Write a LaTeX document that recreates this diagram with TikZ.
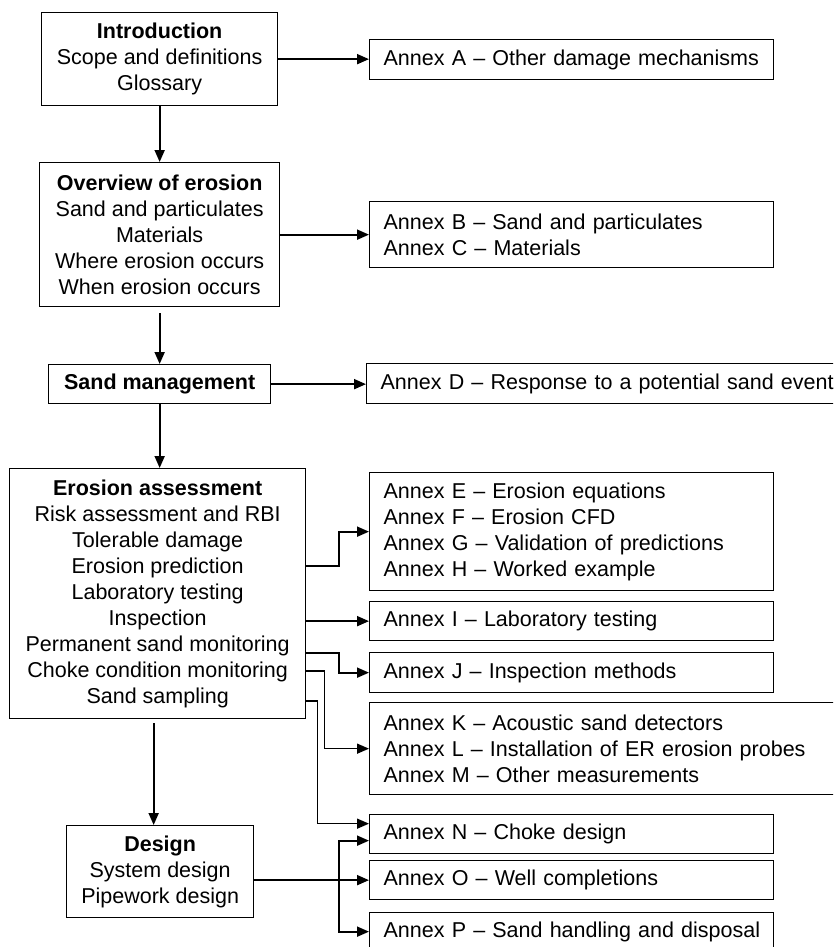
\documentclass[tikz,border=0pt]{standalone}
\usepackage{fontspec}
\setmainfont{Liberation Sans}
\usetikzlibrary{arrows.meta,calc}
\begin{document}
\begin{tikzpicture}[x=1pt,y=-1pt,
  txt/.style={font=\fontsize{21.5}{26}\selectfont},
  box/.style={txt,draw,line width=1.3pt,inner sep=0pt,anchor=north west,align=center},
  annex/.style={txt,draw,line width=1.3pt,inner xsep=14pt,inner ysep=0pt,anchor=north west,align=left},
  arr/.style={line width=1.9pt,-{Triangle[length=12pt,width=10pt]}},
  tarr/.style={line width=1.5pt,-{Triangle[length=12pt,width=10pt]}}]
\useasboundingbox (0,0) rectangle (833,947);
\clip (0,0) rectangle (833,947);

% main column
\node[box,minimum width=236pt,minimum height=93pt] (intro) at (41,12)
  {\textbf{Introduction}\\Scope and definitions\\Glossary};
\node[box,minimum width=240pt,minimum height=144pt] (ov) at (39,162)
  {\textbf{Overview of erosion}\\Sand and particulates\\Materials\\Where erosion occurs\\When erosion occurs};
\node[box,minimum width=222pt,minimum height=39pt] (sm) at (48,364)
  {\textbf{Sand management}};
\node[box,minimum width=296pt,minimum height=250pt] (ea) at (9,468)
  {\textbf{Erosion assessment}\\Risk assessment and RBI\\Tolerable damage\\Erosion prediction\\Laboratory testing\\Inspection\\Permanent sand monitoring\\Choke condition monitoring\\Sand sampling};
\node[box,minimum width=187pt,minimum height=92pt] (de) at (66,825)
  {\textbf{Design}\\System design\\Pipework design};

% annexes
\node[annex,text width=376pt,minimum height=40pt] (anA) at (369,39)
  {\mbox{Annex A – Other damage mechanisms}};
\node[annex,text width=376pt,minimum height=66pt] (anB) at (369,201)
  {\mbox{Annex B – Sand and particulates}\\\mbox{Annex C – Materials}};
\node[annex,text width=492pt,minimum height=40pt] (anD) at (366,363)
  {\mbox{Annex D – Response to a potential sand event}};
\node[annex,text width=376pt,minimum height=118pt] (anEH) at (369,472)
  {\mbox{Annex E – Erosion equations}\\\mbox{Annex F – Erosion CFD}\\\mbox{Annex G – Validation of predictions}\\\mbox{Annex H – Worked example}};
\node[annex,text width=376pt,minimum height=39pt] (anI) at (369,601)
  {\mbox{Annex I – Laboratory testing}};
\node[annex,text width=376pt,minimum height=40pt] (anJ) at (369,652)
  {\mbox{Annex J – Inspection methods}};
\node[annex,text width=492pt,minimum height=92pt] (anKM) at (369,702)
  {\mbox{Annex K – Acoustic sand detectors}\\\mbox{Annex L – Installation of ER erosion probes}\\\mbox{Annex M – Other measurements}};
\node[annex,text width=376pt,minimum height=39pt] (anN) at (369,814)
  {\mbox{Annex N – Choke design}};
\node[annex,text width=376pt,minimum height=39pt] (anO) at (369,860)
  {\mbox{Annex O – Well completions}};
\node[annex,text width=376pt,minimum height=38pt] (anP) at (369,912)
  {\mbox{Annex P – Sand handling and disposal}};

% connectors
\draw[arr] (intro.east) -- (intro.east -| anA.west);
\draw[arr] (intro.south) -- (ov.north);
\draw[arr] (ov.east) -- (ov.east -| anB.west);
\draw[arr] ([yshift=-6pt]ov.south) -- (sm.north);
\draw[arr] (sm.east) -- (sm.east -| anD.west);
\draw[arr] (sm.south) -- (sm.south |- ea.north);
\draw[arr] ([yshift=-98pt]ea.north east) -- ++(33,0) |- (anEH.west);
\draw[arr] (ea.east |- anI.west) -- (anI.west);
\draw[arr] ([yshift=-185pt]ea.north east) -- ++(33,0) |- (anJ.west);
\draw[tarr] ([yshift=-203pt]ea.north east) -- ++(18,0) |- (anKM.west);
\draw[tarr] ([yshift=-233pt]ea.north east) -- ++(11,0) |- ([yshift=10.5pt]anN.west);
\draw[arr] ([xshift=-4pt,yshift=-4pt]ea.south) -- ([xshift=-4pt]ea.south |- de.north);
\draw[arr] (de.east |- anO.west) -- (anO.west);
\coordinate (br) at ($(anO.west)+(-30,0)$);
\draw[arr] (br) |- ([yshift=-6.5pt]anN.west);
\draw[arr] (br) |- (anP.west);
\end{tikzpicture}
\end{document}
